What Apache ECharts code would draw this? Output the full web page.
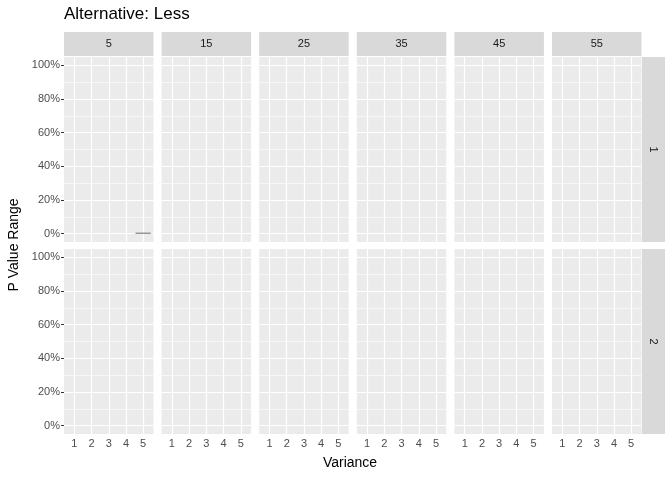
<!DOCTYPE html><html><head><meta charset="utf-8"><script src="https://cdn.jsdelivr.net/npm/echarts@6/dist/echarts.min.js"></script></head><body style="margin:0"><div id="c" style="width:672px;height:480px"></div><script>
const colVar=['5','15','25','35','45','55'];
const rowLab=['1','2'];
const xCats=[1,2,3,4,5];
const yTicks=[0,20,40,60,80,100];
// bars: [row, col, variance, percent]
const bars=[[0,0,5,0.5]];
const ch=echarts.init(document.getElementById('c'));
const grids=[],xA=[],yA=[],series=[],graphic=[];
const L=64,W=89.5,S=97.6,tops=[57,249],H=185;
const gl=[];for(let v=0;v<=100;v+=10)gl.push({yAxis:v,lineStyle:{width:v%20?0.6:1.2}});
for(const x of xCats)gl.push({xAxis:x,lineStyle:{width:1.2}});
let k=0;
for(let r=0;r<2;r++)for(let c=0;c<6;c++){
 grids.push({left:L+c*S,top:tops[r],width:W,height:H,backgroundColor:'#ebebeb',show:true,borderWidth:0});
 xA.push({type:'value',gridIndex:k,min:0.4,max:5.6,splitLine:{show:false},axisLine:{show:false},
  axisTick:{show:r==1,customValues:xCats,length:3,lineStyle:{color:'#333'}},
  axisLabel:{show:r==1,customValues:xCats,color:'#4d4d4d',fontSize:11,margin:4}});
 yA.push({type:'value',gridIndex:k,min:-5,max:105,splitLine:{show:false},axisLine:{show:false},
  axisTick:{show:c==0,customValues:yTicks,length:3,lineStyle:{color:'#333'}},
  axisLabel:{show:c==0,customValues:yTicks,formatter:v=>v+'%',color:'#4d4d4d',fontSize:11,margin:4}});
 const d=bars.filter(b=>b[0]==r&&b[1]==c).map(b=>[b[2],b[3]]);
 series.push({type:'bar',xAxisIndex:k,yAxisIndex:k,data:d,barWidth:15.5,itemStyle:{color:'#999',borderColor:'#666',borderWidth:0.5},
  markLine:{silent:true,symbol:'none',label:{show:false},lineStyle:{color:'#fff',type:'solid'},data:gl,z:1},z:3});
 k++;
}
for(let c=0;c<6;c++){graphic.push({type:'rect',shape:{x:L+c*S,y:32,width:W,height:24},style:{fill:'#d9d9d9'}});
 graphic.push({type:'text',x:L+c*S+W/2,y:44,style:{text:colVar[c],fill:'#1a1a1a',font:'11px Liberation Sans, Arial',align:'center',verticalAlign:'middle'}});}
for(let r=0;r<2;r++){graphic.push({type:'rect',shape:{x:642,y:tops[r],width:23,height:H},style:{fill:'#d9d9d9'}});
 graphic.push({type:'text',x:653,y:tops[r]+H/2,rotation:-Math.PI/2,style:{text:rowLab[r],fill:'#1a1a1a',font:'11px Liberation Sans, Arial',align:'center',verticalAlign:'middle'}});}
graphic.push({type:'text',x:64,y:14,style:{text:'Alternative: Less',fill:'#000',font:'17px Liberation Sans, Arial',verticalAlign:'middle'}});
graphic.push({type:'text',x:350,y:463,style:{text:'Variance',fill:'#000',font:'14px Liberation Sans, Arial',align:'center',verticalAlign:'middle'}});
graphic.push({type:'text',x:14,y:245,rotation:Math.PI/2,style:{text:'P Value Range',fill:'#000',font:'14px Liberation Sans, Arial',align:'center',verticalAlign:'middle'}});
ch.setOption({animation:false,grid:grids,xAxis:xA,yAxis:yA,series,graphic});
</script></body></html>
